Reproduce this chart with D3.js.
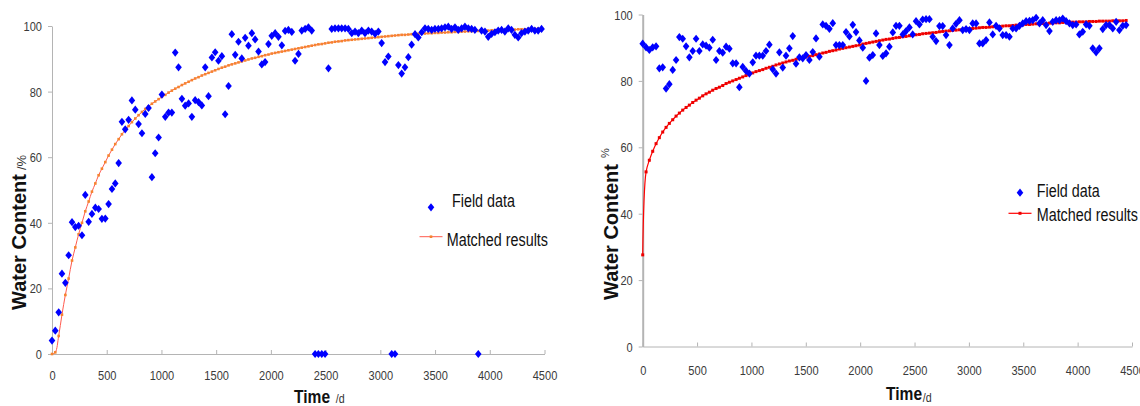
<!DOCTYPE html>
<html>
<head>
<meta charset="utf-8">
<script src="https://cdn.jsdelivr.net/npm/d3@7"></script>
<style>
  body { margin: 0; background: #fff; }
  svg { display: block; }
</style>
</head>
<body>
<svg id="chart" width="1140" height="406"></svg>
<script>
// ---- data ----
const xTicks = [0, 500, 1000, 1500, 2000, 2500, 3000, 3500, 4000, 4500];
const yTicks = [0, 20, 40, 60, 80, 100];
const legendLabels = ['Field data', 'Matched results'];

// left panel: days of each monthly record
const daysA = [0, 30, 61, 91, 122, 152, 183, 213, 243, 274,
  304, 335, 365, 396, 426, 456, 487, 517, 548, 578,
  609, 639, 669, 700, 730, 761, 791, 822, 852, 882,
  913, 943, 974, 1004, 1035, 1065, 1095, 1126, 1156, 1187,
  1217, 1248, 1278, 1308, 1339, 1369, 1400, 1430, 1461, 1491,
  1521, 1552, 1582, 1613, 1643, 1674, 1704, 1734, 1765, 1795,
  1826, 1856, 1887, 1917, 1947, 1978, 2008, 2039, 2069, 2100,
  2130, 2160, 2191, 2221, 2252, 2282, 2313, 2343, 2373, 2404,
  2434, 2465, 2495, 2526, 2556, 2586, 2617, 2647, 2678, 2708,
  2739, 2769, 2799, 2830, 2860, 2891, 2921, 2952, 2982, 3012,
  3043, 3073, 3104, 3134, 3165, 3195, 3225, 3256, 3286, 3317,
  3347, 3378, 3408, 3438, 3469, 3499, 3530, 3560, 3591, 3621,
  3651, 3682, 3712, 3743, 3773, 3804, 3834, 3864, 3895, 3925,
  3956, 3986, 4017, 4047, 4077, 4108, 4138, 4169, 4199, 4229,
  4260, 4290, 4321, 4351, 4382, 4412, 4442, 4473];

const fieldA = [4.1, 7.1, 12.7, 24.5, 21.7, 30.1, 40.2, 38.7, 39.1, 36.2,
  48.5, 40.3, 42.7, 44.6, 44.2, 41.2, 41.3, 45.7, 50.3, 52.0,
  58.2, 70.8, 68.5, 71.4, 77.3, 74.5, 70.1, 67.3, 73.2, 75.0,
  53.9, 61.2, 66.0, 79.1, 72.3, 73.6, 73.6, 91.9, 87.4, 77.8,
  75.7, 76.4, 72.3, 77.4, 76.8, 75.8, 87.4, 78.6, 90.4, 92.0,
  89.4, 90.8, 73.1, 81.7, 97.5, 91.2, 95.2, 90.1, 96.4, 94.0,
  97.8, 95.9, 92.2, 88.3, 89.0, 94.5, 97.0, 97.8, 96.7, 94.1,
  98.5, 98.8, 98.2, 89.4, 91.5, 98.6, 99.1, 99.6, 98.6, 0,
  0, 0, 0, 87.1, 99.1, 99.3, 99.3, 99.3, 99.3, 99.1,
  97.8, 98.3, 97.8, 98.6, 97.8, 98.6, 98.3, 97.6, 98.3, 94.8,
  89.0, 90.7, 0, 0, 88.1, 85.5, 87.4, 90.5, 94.3, 97.5,
  96.5, 98.1, 99.3, 99.1, 98.8, 99.1, 99.1, 99.3, 99.6, 99.8,
  99.1, 99.6, 98.8, 99.3, 99.8, 99.3, 99.1, 98.8, 0, 98.6,
  98.3, 96.7, 97.6, 98.1, 98.6, 98.8, 98.3, 99.3, 98.8, 97.3,
  96.5, 97.8, 98.3, 98.6, 99.1, 98.6, 98.6, 99.1];

const matchedA = [0, 0.5, 5.5, 12, 18, 23, 28.5, 32.5, 36.5, 40,
  43.5, 46.5, 49.5, 52, 54.5, 56.5, 58.5, 60.5, 62.3, 64,
  65.5, 67, 68.3, 69.5, 70.7, 71.8, 72.8, 73.8, 74.7, 75.5,
  76.3, 77, 77.7, 78.4, 79, 79.7, 80.3, 80.9, 81.4, 82,
  82.5, 83, 83.5, 84, 84.4, 84.9, 85.3, 85.7, 86.1, 86.5,
  86.9, 87.3, 87.6, 88, 88.3, 88.6, 88.9, 89.2, 89.5, 89.8,
  90.1, 90.3, 90.6, 90.8, 91.1, 91.3, 91.6, 91.8, 92, 92.2,
  92.4, 92.6, 92.8, 93, 93.2, 93.4, 93.6, 93.8, 94, 94.2,
  94.4, 94.5, 94.7, 94.9, 95, 95.2, 95.3, 95.4, 95.6, 95.7,
  95.8, 95.9, 96, 96.1, 96.2, 96.3, 96.4, 96.5, 96.6, 96.7,
  96.8, 96.9, 97, 97.1, 97.2, 97.3, 97.3, 97.4, 97.5, 97.5,
  97.6, 97.7, 97.7, 97.8, 97.8, 97.9, 97.9, 98, 98, 98.1,
  98.1, 98.2, 98.2, 98.3, 98.3, 98.4, 98.4, 98.5, 98.5, 98.6,
  98.6, 98.6, 98.7, 98.7, 98.7, 98.8, 98.8, 98.9, 98.9, 98.9,
  99, 99, 99, 99.1, 99.1, 99.1, 99.2, 99.2];

// right panel
const daysB = [0, 31, 61, 92, 123, 153, 184, 215, 245, 276,
  307, 337, 368, 399, 429, 460, 491, 521, 552, 583,
  613, 644, 675, 705, 736, 767, 797, 828, 859, 889,
  920, 950, 981, 1012, 1042, 1073, 1104, 1134, 1165, 1196,
  1226, 1257, 1288, 1318, 1349, 1380, 1410, 1441, 1472, 1502,
  1533, 1564, 1594, 1625, 1656, 1686, 1717, 1748, 1778, 1809,
  1840, 1870, 1901, 1932, 1962, 1993, 2024, 2054, 2085, 2116,
  2146, 2177, 2208, 2238, 2269, 2300, 2330, 2361, 2392, 2422,
  2453, 2483, 2514, 2545, 2575, 2606, 2637, 2667, 2698, 2729,
  2759, 2790, 2821, 2851, 2882, 2913, 2943, 2974, 3005, 3035,
  3066, 3097, 3127, 3158, 3189, 3219, 3250, 3281, 3311, 3342,
  3373, 3403, 3434, 3465, 3495, 3526, 3557, 3587, 3618, 3649,
  3679, 3710, 3741, 3771, 3802, 3833, 3863, 3894, 3925, 3955,
  3986, 4016, 4047, 4078, 4108, 4139, 4170, 4200, 4231, 4262,
  4292, 4323, 4354, 4384, 4415, 4446];

const fieldB = [91.2, 90.1, 89.3, 90.1, 90.4, 83.8, 84.1, 77.7, 79.0, 83.3,
  86.3, 93.2, 92.7, 90.4, 87.1, 89.0, 92.7, 89.0, 91.0, 90.6,
  90.0, 92.4, 86.3, 89.0, 88.5, 90.3, 89.7, 85.3, 85.3, 78.1,
  84.2, 83.0, 82.2, 85.6, 87.6, 87.6, 87.6, 89.0, 90.9, 83.5,
  82.2, 88.6, 84.0, 87.6, 89.8, 93.5, 85.2, 87.1, 86.8, 87.8,
  86.3, 88.7, 92.8, 87.3, 97.0, 96.6, 95.7, 97.4, 90.8, 90.8,
  90.8, 94.7, 93.4, 96.9, 94.7, 92.2, 90.0, 80.0, 87.0, 87.8,
  94.3, 90.8, 87.5, 88.3, 90.3, 94.6, 96.6, 96.6, 94.0, 95.0,
  96.1, 94.0, 98.0, 97.0, 98.5, 98.6, 98.6, 93.3, 92.0, 96.5,
  96.5, 93.8, 90.8, 95.8, 97.2, 98.3, 95.3, 95.6, 95.3, 97.3,
  97.3, 91.3, 91.3, 92.3, 97.6, 94.0, 96.6, 95.8, 93.8, 93.8,
  93.3, 95.8, 95.8, 96.6, 97.3, 98.0, 98.1, 98.3, 99.0, 97.3,
  98.3, 96.8, 95.0, 97.8, 98.3, 98.3, 98.8, 98.0, 97.3, 96.8,
  97.0, 94.0, 94.8, 97.0, 96.6, 89.8, 88.6, 89.8, 95.6, 96.8,
  96.8, 95.8, 97.8, 95.3, 96.6, 96.8];

const matchedB = [27.6, 52.6, 56.1, 58.8, 61.1, 62.9, 64.6, 66.0, 67.2, 68.3,
  69.4, 70.3, 71.2, 72.0, 72.7, 73.5, 74.2, 74.8, 75.5, 76.1,
  76.6, 77.2, 77.7, 78.1, 78.6, 79.2, 79.6, 80.0, 80.4, 80.8,
  81.2, 81.6, 82.0, 82.4, 82.8, 83.1, 83.4, 83.8, 84.1, 84.4,
  84.8, 85.1, 85.4, 85.7, 86.0, 86.2, 86.5, 86.7, 87.0, 87.2,
  87.4, 87.6, 87.9, 88.1, 88.4, 88.6, 88.9, 89.1, 89.3, 89.6,
  89.8, 90.0, 90.2, 90.4, 90.6, 90.8, 91.1, 91.3, 91.5, 91.7,
  91.9, 92.1, 92.3, 92.5, 92.6, 92.8, 93.0, 93.1, 93.3, 93.4,
  93.6, 93.8, 93.9, 94.0, 94.2, 94.3, 94.4, 94.5, 94.6, 94.8,
  94.9, 95.0, 95.1, 95.2, 95.3, 95.4, 95.5, 95.6, 95.7, 95.8,
  95.9, 96.0, 96.1, 96.1, 96.2, 96.3, 96.4, 96.4, 96.5, 96.6,
  96.6, 96.7, 96.8, 96.8, 96.9, 97.0, 97.0, 97.1, 97.2, 97.2,
  97.3, 97.3, 97.4, 97.4, 97.5, 97.5, 97.6, 97.6, 97.7, 97.7,
  97.7, 97.8, 97.8, 97.8, 97.9, 97.9, 97.9, 98.0, 98.0, 98.0,
  98.0, 98.1, 98.1, 98.1, 98.1, 98.2];

// ---- drawing ----
const svg = d3.select('#chart');
const sans = "'Liberation Sans', Arial, sans-serif";
const squeeze = 0.82;   // narrow face look (no Arial Narrow installed)
const blue = '#0000ff';

const diamond = (w, h) => `M0,${-h}L${w},0L0,${h}L${-w},0Z`;

function drawPanel(cfg) {
  const g = svg.append('g').attr('class', 'panel');
  const x = d3.scaleLinear([0, 4500], cfg.xRange);
  const y = d3.scaleLinear([0, 100], cfg.yRange);

  // axes
  const xAxis = d3.axisBottom(x).tickValues(xTicks).tickFormat(d3.format('d'))
    .tickSize(-4).tickSizeOuter(0).tickPadding(cfg.xPad);
  const yAxis = d3.axisLeft(y).tickValues(yTicks).tickFormat(d3.format('d'))
    .tickSize(4).tickSizeOuter(0).tickPadding(10 / squeeze - 4);

  g.append('g')
    .attr('transform', `translate(0,${cfg.yRange[0]})`)
    .call(xAxis)
    .call(a => axisStyle(a, 1));
  g.append('g')
    .attr('transform', `translate(${cfg.xRange[0]},0)`)
    .call(yAxis)
    .call(a => axisStyle(a, cfg.yAxisWidth))
    .call(a => a.selectAll('.tick text').attr('dy', '0.34em'));

  function axisStyle(a, w) {
    a.attr('font-family', sans).attr('font-size', 13.5);
    a.select('.domain').attr('stroke', '#b4b4b4').attr('stroke-width', w);
    a.selectAll('.tick line').attr('stroke', '#b4b4b4');
    a.selectAll('.tick text')
      .attr('fill', '#3a3a3a')
      .attr('transform', `scale(${squeeze},1)`);
  }

  // fitted curve
  const pts = cfg.days.map((d, i) => ({ t: d, v: cfg.matched[i] }));
  const line = d3.line()
    .curve(d3.curveCatmullRom.alpha(0.5))
    .x(d => x(d.t))
    .y(d => y(d.v));
  g.append('path')
    .attr('d', line(pts))
    .attr('fill', 'none')
    .attr('stroke', cfg.lineColor)
    .attr('stroke-width', cfg.lineWidth);
  g.append('g')
    .attr('fill', cfg.markColor)
  .selectAll('rect')
    .data(pts)
  .join('rect')
    .attr('x', d => x(d.t) - cfg.markSize / 2)
    .attr('y', d => y(d.v) - cfg.markSize / 2)
    .attr('width', cfg.markSize)
    .attr('height', cfg.markSize);

  // field data
  g.append('g')
    .attr('fill', blue)
  .selectAll('path')
    .data(cfg.field.map((v, i) => ({ t: cfg.days[i], v })))
  .join('path')
    .attr('transform', d => `translate(${x(d.t)},${y(d.v)})`)
    .attr('d', diamond(3.3, 4.1));

  // legend
  const lg = cfg.legend;
  g.append('path')
    .attr('transform', `translate(${lg.x},${lg.y1})`)
    .attr('d', diamond(3.3, 4.1))
    .attr('fill', blue);
  g.append('line')
    .attr('x1', lg.x - 11.5).attr('x2', lg.x + 11.5)
    .attr('y1', lg.y2).attr('y2', lg.y2)
    .attr('stroke', cfg.lineColor).attr('stroke-width', cfg.lineWidth);
  g.append('rect')
    .attr('x', lg.x - cfg.markSize / 2).attr('y', lg.y2 - cfg.markSize / 2)
    .attr('width', cfg.markSize).attr('height', cfg.markSize)
    .attr('fill', cfg.markColor);
  g.selectAll('.legend-text')
    .data(legendLabels)
  .join('text')
    .attr('class', 'legend-text')
    .attr('transform', (d, i) => `translate(${lg.textX[i]},${lg.textY[i]}) scale(${squeeze},1)`)
    .attr('font-family', sans)
    .attr('font-size', 17.5)
    .attr('fill', '#111')
    .text(d => d);

  // axis names
  const yt = cfg.yTitle;
  const ytext = g.append('text')
    .attr('transform', `translate(${yt.x},${yt.y}) rotate(-90)`)
    .attr('font-family', sans)
    .attr('font-weight', 700)
    .attr('font-size', 20)
    .attr('fill', '#111')
    .text('Water Content');
  ytext.append('tspan')
    .attr('dx', yt.unitDx).attr('dy', yt.unitDy)
    .attr('font-weight', 400)
    .attr('font-size', yt.unitSize)
    .attr('fill', '#333')
    .text(yt.unit);

  const xt = cfg.xTitle;
  const xtext = g.append('text')
    .attr('transform', `translate(${xt.x},${xt.y}) scale(${squeeze},1)`)
    .attr('font-family', sans)
    .attr('font-weight', 700)
    .attr('font-size', 19)
    .attr('fill', '#111')
    .text('Time');
  xtext.append('tspan')
    .attr('dx', xt.unitDx).attr('dy', xt.unitDy)
    .attr('font-weight', 400)
    .attr('font-size', 13)
    .attr('fill', '#333')
    .text('/d');
}

drawPanel({
  days: daysA, field: fieldA, matched: matchedA,
  xRange: [52, 544.5], yRange: [354, 26], xPad: 16, yAxisWidth: 1,
  lineColor: '#ff5a4e', lineWidth: 1, markColor: '#f5842f', markSize: 2.6,
  legend: { x: 431, y1: 207.3, y2: 236.7, textX: [452, 446.7], textY: [206.5, 246] },
  yTitle: { x: 25.5, y: 310, unit: '/%', unitDx: 4, unitDy: 0, unitSize: 13 },
  xTitle: { x: 294, y: 403, unitDx: 7, unitDy: 0 }
});

drawPanel({
  days: daysB, field: fieldB, matched: matchedB,
  xRange: [642.7, 1132], yRange: [346.5, 14.5], xPad: 18.5, yAxisWidth: 2,
  lineColor: '#ff0000', lineWidth: 1.2, markColor: '#ee0000', markSize: 3,
  legend: { x: 1020, y1: 192.7, y2: 213.3, textX: [1036.7, 1036.7], textY: [197, 220.7] },
  yTitle: { x: 617.5, y: 300, unit: '%', unitDx: 6, unitDy: -8.5, unitSize: 11 },
  xTitle: { x: 886, y: 400, unitDx: 1, unitDy: 2 }
});
</script>
</body>
</html>
